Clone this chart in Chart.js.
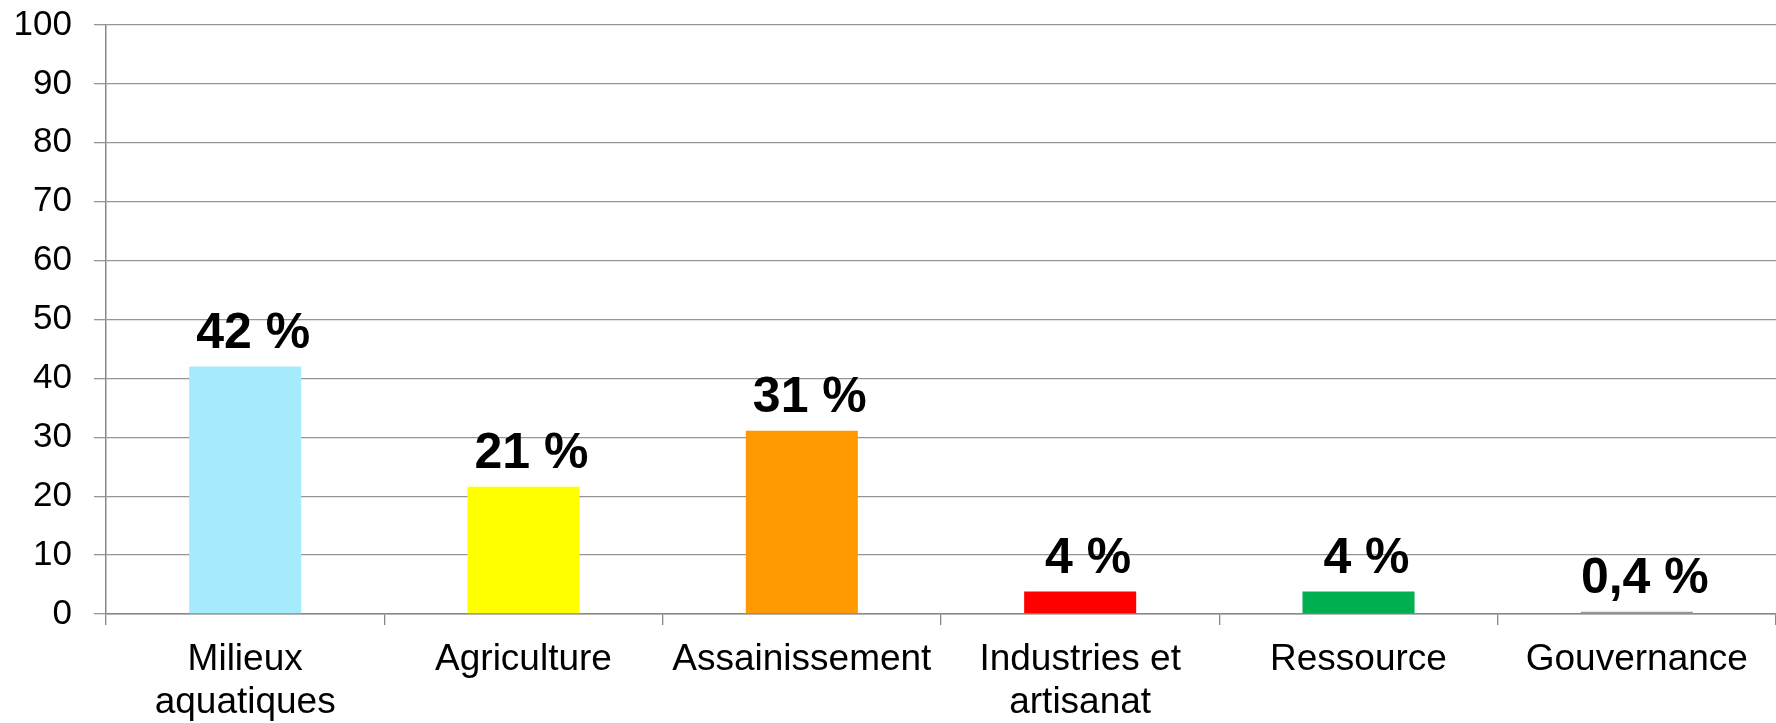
<!DOCTYPE html>
<html>
<head>
<meta charset="utf-8">
<script src="https://cdn.jsdelivr.net/npm/chart.js@4/dist/chart.umd.min.js"></script>
<style>
  html, body { margin: 0; padding: 0; background: #ffffff; }
  #wrap { width: 1776px; height: 723px; position: relative; }
</style>
</head>
<body>
<div id="wrap"><canvas id="c" width="1776" height="723"></canvas></div>
<script>
const categories = [["Milieux", "aquatiques"], "Agriculture", "Assainissement", ["Industries et", "artisanat"], "Ressource", "Gouvernance"];
const values = [42, 21.6, 31.1, 3.8, 3.8, 0.4];
const valueLabels = ["42 %", "21 %", "31 %", "4 %", "4 %", "0,4 %"];
const barColors = ["#A6EBFC", "#FFFF00", "#FF9900", "#FF0000", "#00B050", "#9A9A9A"];
const yTicks = [0, 10, 20, 30, 40, 50, 60, 70, 80, 90, 100];

const FONT = "'Liberation Sans', Arial, Helvetica, sans-serif";

const valueLabelPlugin = {
  id: 'valueLabels',
  afterDatasetsDraw(chart) {
    const ctx = chart.ctx;
    const meta = chart.getDatasetMeta(0);
    ctx.save();
    ctx.font = "bold 50px " + FONT;
    ctx.fillStyle = "#000000";
    ctx.textAlign = "center";
    ctx.textBaseline = "alphabetic";
    meta.data.forEach((bar, i) => {
      ctx.fillText(valueLabels[i], bar.x + 8, bar.y - 19);
    });
    ctx.restore();
  }
};

new Chart(document.getElementById('c'), {
  type: 'bar',
  data: {
    labels: categories,
    datasets: [{
      data: values,
      backgroundColor: barColors,
      borderWidth: 0,
      barPercentage: 0.4025,
      categoryPercentage: 1.0
    }]
  },
  options: {
    responsive: false,
    animation: false,
    devicePixelRatio: 1,
    layout: { padding: { top: 25, right: 0, left: 0, bottom: 0 } },
    plugins: {
      legend: { display: false },
      tooltip: { enabled: false }
    },
    scales: {
      y: {
        min: 0,
        max: 100,
        afterFit(scale) {
          scale.width = 106;
          scale.paddingTop = 0;
          scale.paddingBottom = 0;
        },
        afterBuildTicks(scale) { scale.ticks = yTicks.map(v => ({ value: v })); },
        ticks: {
          font: { family: FONT, size: 35 },
          color: "#000000",
          padding: 22
        },
        grid: {
          color: "#959595",
          lineWidth: 1.3,
          tickLength: 12
        },
        border: { color: "#888888", width: 1.5 }
      },
      x: {
        offset: true,
        afterFit(scale) {
          scale.height = 723 - 614;
          scale.paddingLeft = 0;
          scale.paddingRight = 0;
        },
        ticks: {
          font: { family: FONT, size: 37, lineHeight: 1.16 },
          color: "#000000",
          padding: 13,
          maxRotation: 0,
          autoSkip: false
        },
        grid: {
          offset: true,
          drawOnChartArea: false,
          drawTicks: true,
          tickLength: 11,
          color: "#888888",
          lineWidth: 1.3
        },
        border: { color: "#888888", width: 1.5 }
      }
    }
  },
  plugins: [valueLabelPlugin]
});
</script>
</body>
</html>
